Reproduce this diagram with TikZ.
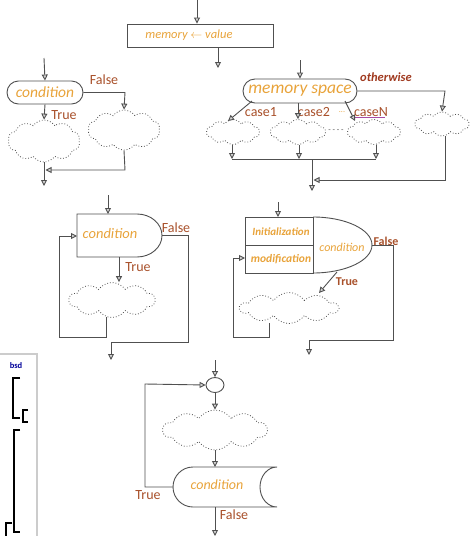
\documentclass[tikz,border=0pt]{standalone}
\usepackage{fontspec}
\setmainfont{Carlito}
\usetikzlibrary{arrows.meta,shapes.symbols,shapes.misc,shapes.geometric}
\definecolor{ln}{HTML}{505050}
\definecolor{ora}{HTML}{E8A33A}
\definecolor{lab}{HTML}{A8502A}
\definecolor{dlab}{HTML}{A03A20}
\tikzset{
  flow/.style={draw=ln,line width=0.9pt,-{Triangle[length=6pt,width=6pt,fill=gray!35]}},
  plain/.style={draw=ln,line width=0.9pt},
  shp/.style={draw=ln,line width=0.9pt},
  cloudy/.style={cloud,cloud puffs=10,cloud puff arc=110,cloud ignores aspect,draw=ln,dotted,line width=0.8pt,inner sep=0pt},
  term/.style={rounded rectangle,draw=ln,line width=0.9pt,inner sep=0pt},
  otext/.style={text=ora,font=\itshape},
  ltext/.style={text=lab,font=\fontsize{14}{16}\selectfont},
}
\begin{document}
\begin{tikzpicture}[x=1pt,y=-1pt]
\useasboundingbox (0,0) rectangle (474,536);
% ---------- top assignment ----------
\coordinate (a0) at (197,0);
\node[draw=ln,line width=0.9pt,minimum width=146,minimum height=23,inner sep=0] (assign) at (200,35.5) {};
\node[otext,font=\itshape\fontsize{12.5}{14}\selectfont] (asgtxt) at (189,35) {memory $\leftarrow$ value};
\coordinate (a1) at (218,47);
\coordinate (a2) at (218,68);
\draw[flow] (a0) -- (a0 |- assign.north);
\draw[flow] (a1) -- (a2);
% ---------- if / else ----------
\coordinate (b0) at (44,58);
\node[term,minimum width=76,minimum height=23] (ifc) at (45,92.5) {};
\node[otext,font=\itshape\fontsize{15.5}{17}\selectfont] (ifct) at (45,92) {condition};
\node[cloudy,minimum width=72,minimum height=42] (ifl) at (44,141) {};
\node[cloudy,minimum width=72,minimum height=40] (ifr) at (124,130) {};
\node[ltext] (iff) at (104,80) {False};
\node[ltext] (ift) at (64,115) {True};
\coordinate (b1) at (125,92.5);
\coordinate (b2) at (125,170);
\coordinate (b3) at (44,186);
\draw[flow] (b0) -- (ifc.north);
\draw[flow] (ifc.east) -- (b1) -- (ifr.north);
\draw[flow] (ifc.south) -- (ifl.north);
\draw[flow] (ifl.south) -- (b3);
\draw[flow] (ifr.south) -- (b2) -- (45.5,170);
% ---------- switch ----------
\coordinate (c0) at (300,60);
\node[term,minimum width=114,minimum height=24] (sw) at (300,91) {};
\node[otext,font=\itshape\fontsize{17.5}{19}\selectfont] (swt) at (300,91) {memory space};
\node[text=dlab,font=\bfseries\itshape\fontsize{12.5}{14}\selectfont] (oth) at (386,77) {otherwise};
\node[cloudy,minimum width=53,minimum height=25] (s1) at (233,132) {};
\node[cloudy,minimum width=55,minimum height=25] (s2) at (298,132) {};
\node[cloudy,minimum width=53,minimum height=25] (s3) at (374,132) {};
\node[cloudy,minimum width=54,minimum height=24] (s4) at (442,124) {};
\node[ltext] (c1l) at (261,112) {case1};
\node[ltext] (c2l) at (314,112) {case2};
\node[text=ora,font=\fontsize{8}{9}\selectfont] (cdots) at (342,112) {...};
\node[ltext] (cnl) at (371,112) {caseN};
\draw[draw=blue!50!red!70,line width=0.8pt] (cnl.south west) ++(2,-3) -- ++(33,0);
\node[text=ln,font=\fontsize{8}{9}\selectfont] (sdots) at (336,131) {- - - -};
\coordinate (c1s) at (252,101);
\coordinate (cns) at (345,101);
\coordinate (sr1) at (445,91);
\coordinate (sr2) at (445,180);
\coordinate (h1) at (232,159);
\coordinate (h2) at (299,159);
\coordinate (h3) at (376,159);
\coordinate (hm) at (312,159);
\coordinate (hb) at (312,191);
\draw[flow] (c0) -- (sw.north);
\draw[flow] (c1s) -- (228,121);
\draw[flow] (sw.south -| s2) -- (s2.north);
\draw[flow] (cns) -- (355,121);
\draw[flow] (sw.east) -- (sr1) -- (s4.north);
\draw[flow] (s1.south -| h1) -- (h1);
\draw[flow] (s2.south -| h2) -- (h2);
\draw[flow] (s3.south -| h3) -- (h3);
\draw[plain] (h1) -- (h3);
\draw[flow] (hm) -- (hb);
\draw[flow] (s4.south -| sr2) -- (sr2) -- (313.5,180);
% ---------- while ----------
\coordinate (d0) at (108,195);
\draw[shp] (77,214) -- (137,214) arc[start angle=-90,end angle=90,x radius=25,y radius=21.5] -- (77,257) -- cycle;
\coordinate (wtop) at (108,214);
\coordinate (weast) at (162,235.5);
\coordinate (wbot) at (119,257);
\coordinate (wwest) at (77,236);
\node[otext,font=\itshape\fontsize{14.5}{16}\selectfont] (wct) at (110,234) {condition};
\node[ltext] (wf) at (176,228) {False};
\node[ltext] (wt) at (138,267) {True};
\node[cloudy,minimum width=86,minimum height=35] (wcl) at (112,300) {};
\draw[flow] (d0) -- (wtop);
\draw[flow] (wbot) -- (wbot |- wcl.north);
\draw[flow] (weast) -- (188,235.5) -- (188,342) -- (111,342) -- (111,360);
\draw[flow] (106,317) -- (106,337) -- (59,337) -- (59,236) -- (wwest);
% ---------- for ----------
\coordinate (e0) at (278,202);
\draw[shp] (245,217) rectangle (313,273);
\draw[shp] (245,245) -- (313,245);
\draw[shp] (313,217) arc[start angle=-90,end angle=90,x radius=59,y radius=28];
\coordinate (ftop) at (278,217);
\coordinate (feast) at (372,245);
\coordinate (fbot) at (337,272);
\coordinate (fwest) at (245,258);
\node[otext,font=\bfseries\itshape\fontsize{11}{13}\selectfont] (fi) at (281,232) {Initialization};
\node[otext,font=\bfseries\itshape\fontsize{11.5}{13}\selectfont] (fm) at (281,259) {modification};
\node[otext,font=\itshape\fontsize{12}{14}\selectfont] (fc) at (342,247) {condition};
\node[ltext,font=\bfseries\fontsize{12}{14}\selectfont] (ff) at (386,241) {False};
\node[ltext,font=\bfseries\fontsize{12}{14}\selectfont] (ft) at (347,282) {True};
\node[cloudy,minimum width=98,minimum height=31] (fcl) at (289,308) {};
\draw[flow] (e0) -- (ftop);
\draw[flow] (fbot) -- (319,293);
\draw[flow] (feast) -- (393,245) -- (393,340) -- (309,340) -- (309,355);
\draw[flow] (269,323) -- (269,337) -- (233,337) -- (233,258) -- (fwest);
% ---------- do while ----------
\coordinate (g0) at (215,360);
\node[draw=ln,line width=0.9pt,ellipse,minimum width=18,minimum height=15,inner sep=0] (jn) at (215,385) {};
\node[cloudy,minimum width=104,minimum height=40] (gcl) at (215,430) {};
\draw[shp] (193,467) arc[start angle=-90,end angle=-270,radius=20] -- (277,507) arc[start angle=90,end angle=270,x radius=17,y radius=20] -- cycle;
\coordinate (gtop) at (215,467);
\coordinate (gwest) at (173,487);
\coordinate (gbot) at (215,507);
\coordinate (gend) at (215,536);
\node[otext,font=\itshape\fontsize{14}{16}\selectfont] (gct) at (217,485) {condition};
\node[ltext] (gt) at (148,495) {True};
\node[ltext] (gf) at (234,515) {False};
\draw[flow] (g0) -- (jn.north);
\draw[flow] (jn.south) -- (gcl.north);
\draw[flow] (gcl.south) -- (gtop);
\draw[flow] (gwest) -- (145,487) -- (145,384) -- (jn.west);
\draw[flow] (gbot) -- (gend);
% ---------- side panel ----------
\draw[draw=gray!40,line width=1.5pt] (0,354) -- (37,354) -- (37,536);
\node[text=blue!60!black,font=\bfseries\fontsize{8.5}{10}\selectfont] (bsd) at (16,366) {bsd};
\draw[line width=1.3pt] (20,378) -- (13,378) -- (13,418) -- (20,418);
\draw[line width=1.3pt] (28,410) -- (23,410) -- (23,422) -- (28,422);
\draw[line width=1.3pt] (20,430) -- (14,430) -- (14,532) -- (20,532);
\draw[line width=1.3pt] (12,523) -- (6,523) -- (6,540);
\end{tikzpicture}
\end{document}
